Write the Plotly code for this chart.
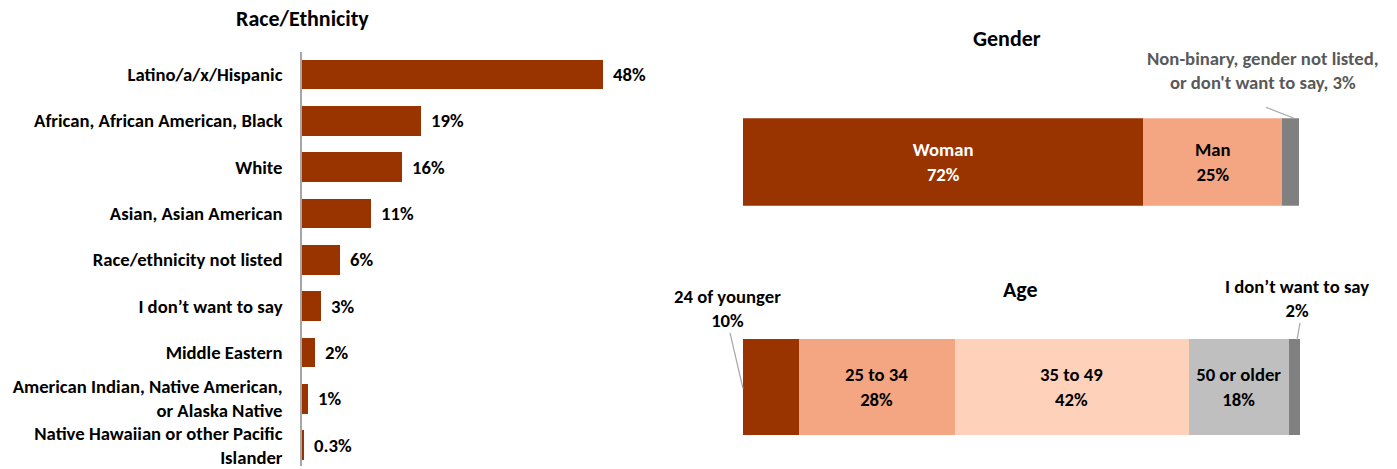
import plotly.graph_objects as go

# ---------------- data ----------------
race_categories = [
    "Latino/a/x/Hispanic",
    "African, African American, Black",
    "White",
    "Asian, Asian American",
    "Race/ethnicity not listed",
    "I don’t want to say",
    "Middle Eastern",
    "American Indian, Native American,<br>or Alaska Native",
    "Native Hawaiian or other Pacific<br>Islander",
]
race_values = [48, 19, 16, 11, 6, 3, 2, 1, 0.3]
race_labels = ["48%", "19%", "16%", "11%", "6%", "3%", "2%", "1%", "0.3%"]

gender_categories = ["Woman", "Man", "Non-binary, gender not listed,<br>or don't want to say"]
gender_values = [72, 25, 3]
gender_labels = ["72%", "25%", "3%"]

age_categories = ["24 of younger", "25 to 34", "35 to 49", "50 or older", "I don’t want to say"]
age_values = [10, 28, 42, 18, 2]
age_labels = ["10%", "28%", "42%", "18%", "2%"]

# ---------------- styles ----------------
FONT = "Carlito, 'Liberation Sans Narrow', 'Open Sans', sans-serif"
FS = 18.7
TS = 22
DARK = "#993300"
SALMON = "#F4A683"
PEACH = "#FDD1BA"
LGRAY = "#BFBFBF"
DGRAY = "#808080"
W, H = 1397, 469


def px(x):
    return x / W


def py(y):
    return 1 - y / H


fig = go.Figure()

# ---- Race / Ethnicity ----
fig.add_trace(go.Bar(
    x=race_values, y=race_categories, orientation="h",
    marker=dict(color=DARK, line=dict(width=0)),
    width=0.64, xaxis="x", yaxis="y", hoverinfo="skip",
))
for c, v, t in zip(race_categories, race_values, race_labels):
    fig.add_annotation(x=v, y=c, xref="x", yref="y", text=f"<b>{t}</b>",
                       showarrow=False, xanchor="left", yanchor="middle", xshift=8,
                       font=dict(size=FS, color="#000000", family=FONT))

# ---- Gender ----
g_colors = [DARK, SALMON, DGRAY]
g_text_colors = ["#FFFFFF", "#000000", "#000000"]
for i, (c, v, t) in enumerate(zip(gender_categories, gender_values, gender_labels)):
    txt = f"<b>{c}<br>{t}</b>" if i < 2 else ""
    fig.add_trace(go.Bar(
        x=[v], y=["Gender"], orientation="h", name=c,
        marker=dict(color=g_colors[i], line=dict(width=0)),
        width=1, xaxis="x2", yaxis="y2", hoverinfo="skip",
        text=[txt], textposition="inside", insidetextanchor="middle",
        textfont=dict(size=FS, color=g_text_colors[i], family=FONT),
        constraintext="none", textangle=0,
    ))

# ---- Age ----
a_colors = [DARK, SALMON, PEACH, LGRAY, DGRAY]
for i, (c, v, t) in enumerate(zip(age_categories, age_values, age_labels)):
    txt = f"<b>{c}<br>{t}</b>" if i in (1, 2, 3) else ""
    fig.add_trace(go.Bar(
        x=[v], y=["Age"], orientation="h", name=c,
        marker=dict(color=a_colors[i], line=dict(width=0)),
        width=1, xaxis="x3", yaxis="y3", hoverinfo="skip",
        text=[txt], textposition="inside", insidetextanchor="middle",
        textfont=dict(size=FS, color="#000000", family=FONT),
        constraintext="none", textangle=0,
    ))

fig.update_layout(
    width=W, height=H, margin=dict(l=0, r=0, t=0, b=0),
    paper_bgcolor="white", plot_bgcolor="white",
    barmode="stack", showlegend=False,
    font=dict(family=FONT, size=FS, color="#000000"),
    xaxis=dict(domain=[px(302), px(700)], range=[0, 63.5], visible=False, fixedrange=True),
    yaxis=dict(domain=[0, py(52)], range=[8.45, -0.49], anchor="x",
               showline=True, linecolor="#A6A6A6", linewidth=1.5,
               showgrid=False, zeroline=False, ticks="",
               ticklabelstandoff=14,
               tickfont=dict(size=FS, family=FONT, color="#000000"),
               tickvals=race_categories,
               ticktext=[f"<b>{c}</b>" for c in race_categories]),
    xaxis2=dict(domain=[px(743), px(1299)], range=[0, 100], visible=False, anchor="y2"),
    yaxis2=dict(domain=[py(207), py(119)], range=[-0.5, 0.5], visible=False, anchor="x2"),
    xaxis3=dict(domain=[px(743), px(1300)], range=[0, 100], visible=False, anchor="y3"),
    yaxis3=dict(domain=[py(438), py(341)], range=[-0.5, 0.5], visible=False, anchor="x3"),
)


def label(x, y, text, size=FS, color="#000000"):
    fig.add_annotation(x=px(x), y=py(y), xref="paper", yref="paper", showarrow=False,
                       xanchor="center", yanchor="middle", text=text,
                       font=dict(size=size, family=FONT, color=color))


label(302, 19, "<b>Race/Ethnicity</b>", TS)
label(1007, 39, "<b>Gender</b>", TS)
label(1020, 291, "<b>Age</b>", TS)
label(1263, 71, f"<b>{gender_categories[2]}, {gender_labels[2]}</b>", FS, "#595959")
label(728, 310, f"<b>{age_categories[0]}<br>{age_labels[0]}</b>")
label(1297, 300, f"<b>{age_categories[4]}<br>{age_labels[4]}</b>")

line_style = dict(color="#A6A6A6", width=1.2)
fig.add_shape(type="line", xref="paper", yref="paper",
              x0=px(1266), y0=py(108), x1=px(1294), y1=py(119), line=line_style)
fig.add_shape(type="line", xref="paper", yref="paper",
              x0=px(730), y0=py(335), x1=px(743), y1=py(391), line=line_style)
fig.add_shape(type="line", xref="paper", yref="paper",
              x0=px(1300), y0=py(325), x1=px(1297), y1=py(342), line=line_style)

fig.write_html("out.html", config={"displayModeBar": False},
               post_script="document.body.style.margin='0';document.body.style.padding='0';")
